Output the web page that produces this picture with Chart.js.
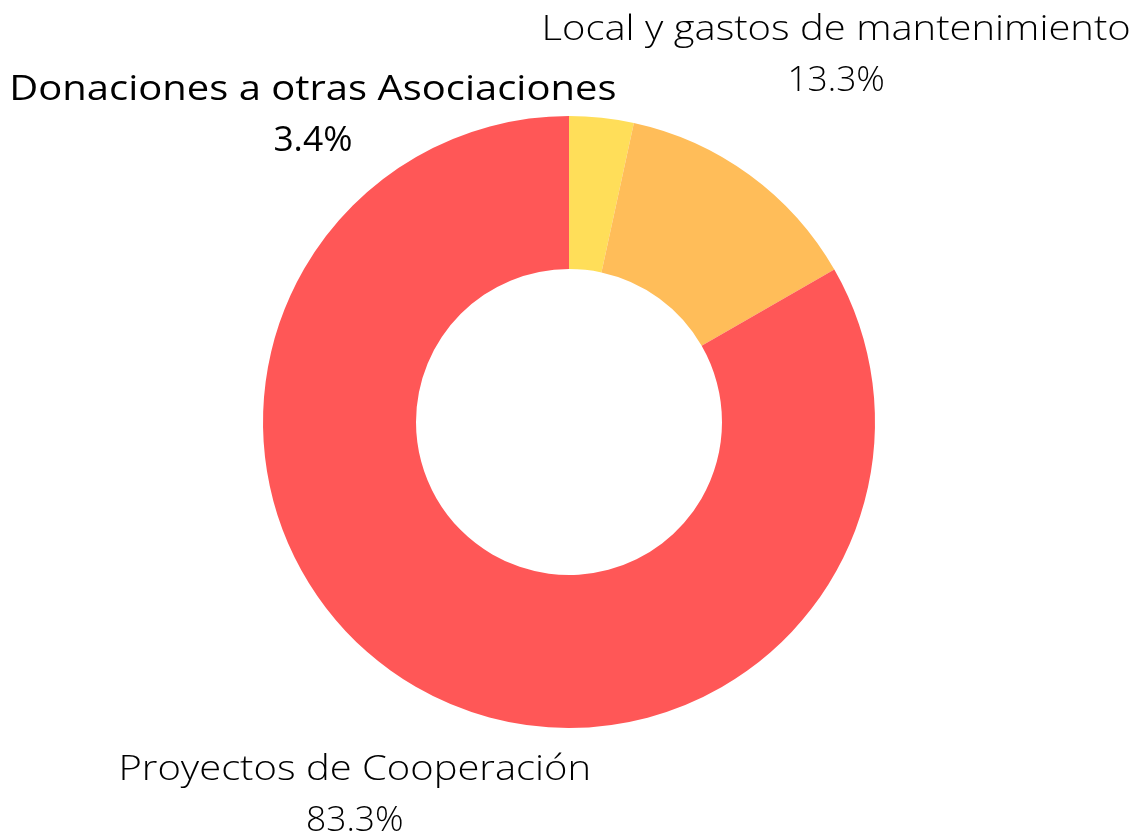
<!DOCTYPE html>
<html>
<head>
<meta charset="utf-8">
<script src="https://cdn.jsdelivr.net/npm/chart.js@4"></script>
<style>
  html, body { margin: 0; padding: 0; background: #fff; }
  #wrap { width: 1139px; height: 838px; }
</style>
</head>
<body>
<div id="wrap"><canvas id="myChart"></canvas></div>
<script>
// datos del gráfico
const labels = ['Donaciones a otras Asociaciones', 'Local y gastos de mantenimiento', 'Proyectos de Cooperación'];
const values = [3.4, 13.3, 83.3];
const colors = ['#FFDE59', '#FFBD59', '#FF5757'];

// posición de cada etiqueta respecto al centro (en radios exteriores)
const labelOffsets = [[-0.837, -1.085], [0.873, -1.281], [-0.70, 1.137]];
const labelWeights = ['400', '300', '300'];

// texto algo ensanchado para parecerse a la fuente original
function wideText(ctx, text, x, y, sx) {
    ctx.save();
    ctx.translate(x, y);
    ctx.scale(sx, 1);
    ctx.fillText(text, 0, 0);
    ctx.restore();
}

const labelPlugin = {
    id: 'outerLabels',
    afterDraw(chart) {
        const ctx = chart.ctx;
        const meta = chart.getDatasetMeta(0);
        meta.data.forEach((arc, i) => {
            const r = arc.outerRadius;
            const x = arc.x + labelOffsets[i][0] * r;
            const y = arc.y + labelOffsets[i][1] * r;
            ctx.save();
            ctx.fillStyle = '#000';
            ctx.textAlign = 'center';
            ctx.textBaseline = 'middle';
            ctx.font = labelWeights[i] + ' 34px "Open Sans", sans-serif';
            wideText(ctx, labels[i], x, y, 1.175);
            wideText(ctx, values[i].toFixed(1) + '%', x, y + 51, 1.04);
            ctx.restore();
        });
    }
};

const ctx = document.getElementById('myChart').getContext('2d');
new Chart(ctx, {
    type: 'doughnut',
    data: {
        labels: labels,
        datasets: [{
            data: values,
            backgroundColor: colors,
            borderWidth: 0
        }]
    },
    options: {
        responsive: true,
        maintainAspectRatio: false,
        animation: false,
        cutout: '50%',
        layout: {
            padding: { top: 116, bottom: 110, left: 263, right: 264 }
        },
        plugins: {
            legend: { display: false },
            tooltip: { enabled: false }
        }
    },
    plugins: [labelPlugin]
});
</script>
</body>
</html>
